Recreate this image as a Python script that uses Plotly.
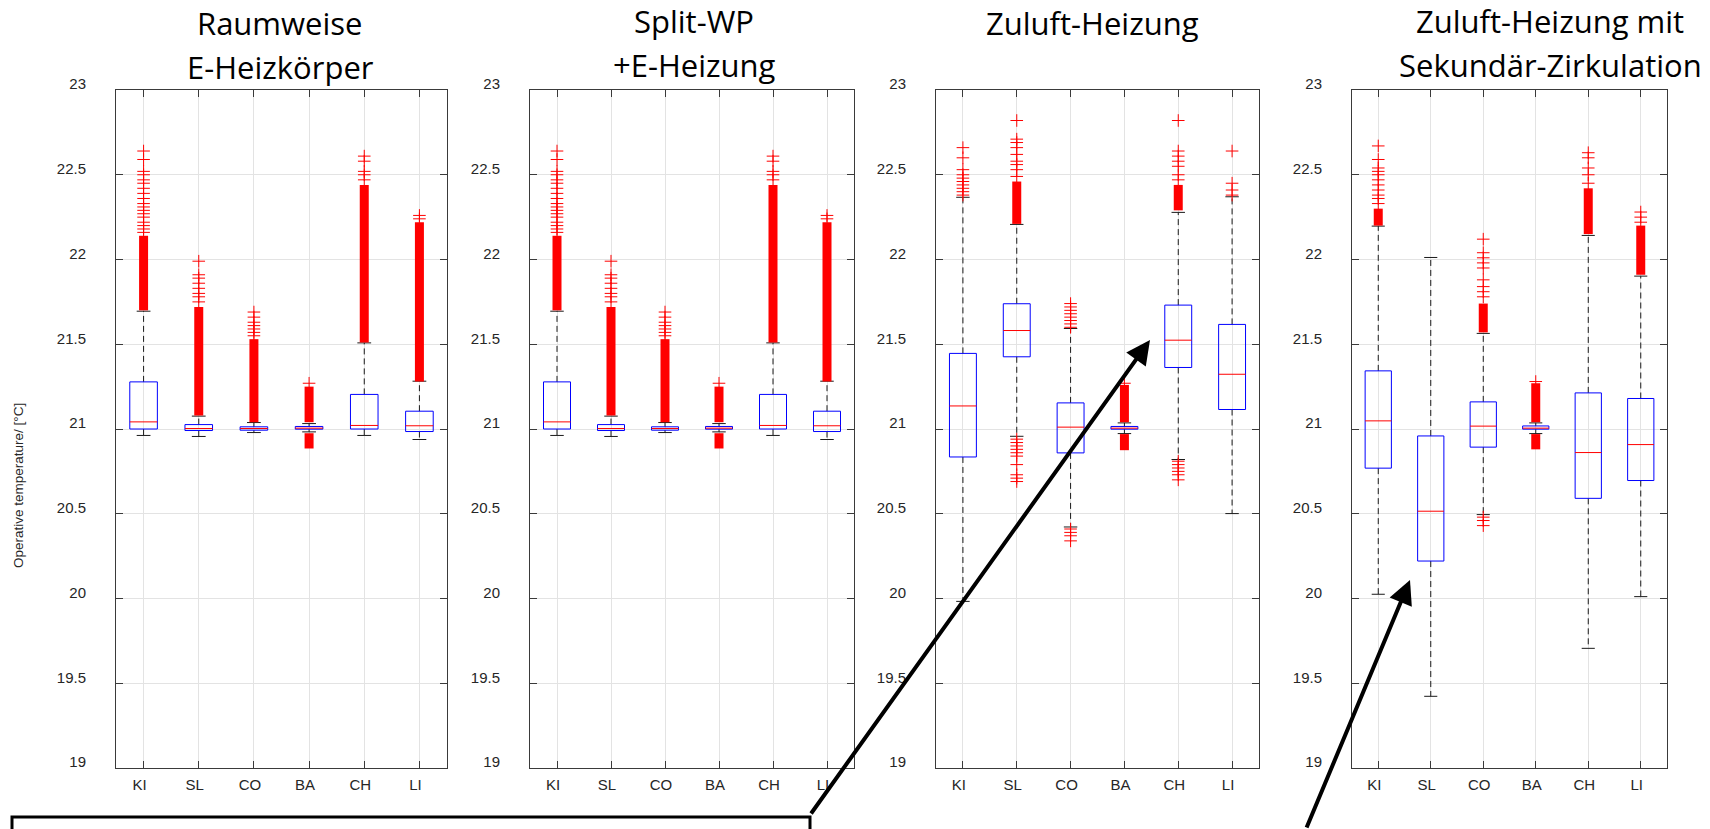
import plotly.graph_objects as go

# ---------------- data ----------------
categories = ["KI", "SL", "CO", "BA", "CH", "LI"]
y_range = [19, 23]

titles = [
    ["Raumweise", "E-Heizkörper"],
    ["Split-WP", "+E-Heizung"],
    ["Zuluft-Heizung"],
    ["Zuluft-Heizung mit", "Sekundär-Zirkulation"],
]

# Panel 1: Raumweise E-Heizkörper
raum_q1 = [21.000, 20.991, 20.993, 20.999, 21.000, 20.985]
raum_median = [21.042, 21.003, 21.003, 21.005, 21.021, 21.019]
raum_q3 = [21.278, 21.026, 21.013, 21.015, 21.204, 21.105]
raum_lower = [20.962, 20.956, 20.979, 20.983, 20.962, 20.938]
raum_upper = [21.695, 21.076, 21.038, 21.032, 21.508, 21.282]
raum_dense = [[(21.70, 22.14)], [(21.08, 21.72)], [(21.04, 21.53)],
              [(21.04, 21.25), (20.885, 20.975)], [(21.51, 22.44)], [(21.28, 22.22)]]
raum_outliers = [
    [22.16, 22.18, 22.20, 22.22, 22.25, 22.27, 22.29, 22.31, 22.33, 22.36, 22.39, 22.42, 22.45, 22.47, 22.50, 22.52, 22.59, 22.64],
    [21.75, 21.78, 21.80, 21.83, 21.86, 21.89, 21.91, 21.99],
    [21.55, 21.57, 21.59, 21.61, 21.63, 21.66, 21.69],
    [21.27],
    [22.47, 22.50, 22.52, 22.58, 22.61],
    [22.24, 22.26],
]

# Panel 2: Split-WP + E-Heizung (same readings as panel 1)
split_q1 = [21.000, 20.991, 20.993, 20.999, 21.000, 20.985]
split_median = [21.042, 21.003, 21.003, 21.005, 21.021, 21.019]
split_q3 = [21.278, 21.026, 21.013, 21.015, 21.204, 21.105]
split_lower = [20.962, 20.956, 20.979, 20.983, 20.962, 20.938]
split_upper = [21.695, 21.076, 21.038, 21.032, 21.508, 21.282]
split_dense = [[(21.70, 22.14)], [(21.08, 21.72)], [(21.04, 21.53)],
               [(21.04, 21.25), (20.885, 20.975)], [(21.51, 22.44)], [(21.28, 22.22)]]
split_outliers = [
    [22.16, 22.18, 22.20, 22.22, 22.25, 22.27, 22.29, 22.31, 22.33, 22.36, 22.39, 22.42, 22.45, 22.47, 22.50, 22.52, 22.59, 22.64],
    [21.75, 21.78, 21.80, 21.83, 21.86, 21.89, 21.91, 21.99],
    [21.55, 21.57, 21.59, 21.61, 21.63, 21.66, 21.69],
    [21.27],
    [22.47, 22.50, 22.52, 22.58, 22.61],
    [22.24, 22.26],
]

# Panel 3: Zuluft-Heizung
zul_q1 = [20.835, 21.426, 20.859, 20.999, 21.363, 21.115]
zul_median = [21.136, 21.581, 21.011, 21.005, 21.524, 21.323]
zul_q3 = [21.446, 21.739, 21.154, 21.015, 21.731, 21.617]
zul_lower = [19.983, 20.957, 20.422, 20.973, 20.820, 20.501]
zul_upper = [22.367, 22.207, 21.593, 21.036, 22.278, 22.370]
zul_dense = [[], [(22.21, 22.46)], [], [(21.04, 21.26), (20.875, 20.97)], [(22.29, 22.44)], []]
zul_outliers = [
    [22.38, 22.40, 22.42, 22.44, 22.46, 22.48, 22.50, 22.53, 22.60, 22.66],
    [22.49, 22.53, 22.56, 22.58, 22.62, 22.66, 22.69, 22.71, 22.82,
     20.94, 20.92, 20.90, 20.88, 20.86, 20.84, 20.79, 20.73, 20.71, 20.69],
    [21.60, 21.62, 21.64, 21.66, 21.68, 21.70, 21.72, 21.74, 20.41, 20.39, 20.37, 20.34],
    [21.27],
    [22.47, 22.50, 22.55, 22.58, 22.61, 22.64, 22.82, 20.81, 20.79, 20.77, 20.75, 20.73, 20.70],
    [22.38, 22.41, 22.45, 22.64],
]

# Panel 4: Zuluft-Heizung mit Sekundär-Zirkulation
sek_q1 = [20.769, 20.221, 20.893, 20.999, 20.591, 20.696]
sek_median = [21.048, 20.515, 21.017, 21.005, 20.861, 20.908]
sek_q3 = [21.343, 20.959, 21.160, 21.018, 21.213, 21.180]
sek_lower = [20.025, 19.423, 20.495, 20.973, 19.706, 20.011]
sek_upper = [22.197, 22.012, 21.564, 21.036, 22.142, 21.902]
sek_dense = [[(22.20, 22.30)], [], [(21.57, 21.74)], [(21.04, 21.27), (20.88, 20.97)],
             [(22.15, 22.42)], [(21.91, 22.20)]]
sek_outliers = [
    [22.33, 22.36, 22.38, 22.41, 22.44, 22.47, 22.50, 22.52, 22.54, 22.59, 22.67],
    [],
    [21.78, 21.81, 21.84, 21.88, 21.95, 21.98, 22.01, 22.04, 22.12, 20.48, 20.46, 20.43],
    [21.28],
    [22.45, 22.50, 22.54, 22.60, 22.63],
    [22.22, 22.25, 22.28],
]

panels = [
    (raum_q1, raum_median, raum_q3, raum_lower, raum_upper, raum_dense, raum_outliers),
    (split_q1, split_median, split_q3, split_lower, split_upper, split_dense, split_outliers),
    (zul_q1, zul_median, zul_q3, zul_lower, zul_upper, zul_dense, zul_outliers),
    (sek_q1, sek_median, sek_q3, sek_lower, sek_upper, sek_dense, sek_outliers),
]

# ---------------- layout geometry (pixels of 1710x829 canvas) ----------------
W, H = 1710, 829
panel_px = [(116, 447), (530, 854), (936, 1259), (1352, 1667)]
top_px, bot_px = 90, 768
title_px = [[(280, 23), (280, 67)], [(694, 21), (694, 65)], [(1092, 23)], [(1550, 21), (1550, 65)]]

BOX_HALF = 0.25
CAP_HALF = 0.125
AXC = "#3a3a3a"
GRID = "#e3e3e3"
TICKFONT = dict(family="Liberation Sans, Arial, sans-serif", size=15, color="#262626")

fig = go.Figure()

for k, (q1, med, q3, lo, hi, dense, outl) in enumerate(panels):
    xa = "x" if k == 0 else f"x{k+1}"
    ya = "y" if k == 0 else f"y{k+1}"
    wx, wy, cx, cy, bx, by, mx, my, ox, oy, dx, dy = ([] for _ in range(12))
    for i in range(len(categories)):
        p = i + 1
        wx += [p, p, None, p, p, None]
        wy += [q3[i], hi[i], None, q1[i], lo[i], None]
        cx += [p - CAP_HALF, p + CAP_HALF, None, p - CAP_HALF, p + CAP_HALF, None]
        cy += [hi[i], hi[i], None, lo[i], lo[i], None]
        bx += [p - BOX_HALF, p + BOX_HALF, p + BOX_HALF, p - BOX_HALF, p - BOX_HALF, None]
        by += [q1[i], q1[i], q3[i], q3[i], q1[i], None]
        mx += [p - BOX_HALF, p + BOX_HALF, None]
        my += [med[i], med[i], None]
        for (a, b) in dense[i]:
            dx += [p, p, None]
            dy += [a, b, None]
        for v in outl[i]:
            ox.append(p)
            oy.append(v)
    common = dict(xaxis=xa, yaxis=ya, showlegend=False, hoverinfo="skip")
    fig.add_trace(go.Scatter(x=wx, y=wy, mode="lines",
                             line=dict(color="#1a1a1a", width=1, dash="6px,4px"), **common))
    fig.add_trace(go.Scatter(x=cx, y=cy, mode="lines", line=dict(color="#1a1a1a", width=1), **common))
    fig.add_trace(go.Scatter(x=dx, y=dy, mode="lines", line=dict(color="#ff0000", width=9), **common))
    fig.add_trace(go.Scatter(x=ox, y=oy, mode="markers",
                             marker=dict(symbol="cross-thin", size=9, line=dict(color="#ff0000", width=1)),
                             **common))
    fig.add_trace(go.Scatter(x=bx, y=by, mode="lines", line=dict(color="#0000ff", width=1), **common))
    fig.add_trace(go.Scatter(x=mx, y=my, mode="lines", line=dict(color="#ff0000", width=1), **common))

layout = dict(
    width=W, height=H, autosize=False, margin=dict(l=0, r=0, t=0, b=0, pad=0, autoexpand=False),
    paper_bgcolor="white", plot_bgcolor="white", showlegend=False,
)
ydom = [1 - bot_px / H, 1 - top_px / H]
for k, (x0, x1) in enumerate(panel_px):
    sx = "" if k == 0 else str(k + 1)
    layout[f"xaxis{sx}"] = dict(
        domain=[x0 / W, x1 / W], range=[0.5, 6.5], anchor=f"y{sx}", automargin=False,
        tickmode="array", tickvals=list(range(1, len(categories) + 1)), ticktext=categories,
        showgrid=True, gridcolor=GRID, gridwidth=1, zeroline=False,
        showline=True, linecolor=AXC, linewidth=1, mirror="ticks",
        ticks="inside", ticklen=7, tickcolor=AXC, tickfont=TICKFONT,
        ticklabelshift=-4, ticklabelstandoff=3, fixedrange=True,
    )
    layout[f"yaxis{sx}"] = dict(
        domain=ydom, range=y_range, anchor=f"x{sx}", automargin=False,
        tick0=19, dtick=0.5,
        showgrid=True, gridcolor=GRID, gridwidth=1, zeroline=False,
        showline=True, linecolor=AXC, linewidth=1, mirror="ticks",
        ticks="inside", ticklen=7, tickcolor=AXC, tickfont=TICKFONT,
        ticklabelstandoff=26, ticklabelshift=-6, fixedrange=True,
    )
fig.update_layout(**layout)

# titles
for k, lines in enumerate(titles):
    for line, (px, py) in zip(lines, title_px[k]):
        fig.add_annotation(text=line, x=px / W, y=1 - py / H, xref="paper", yref="paper",
                           xanchor="center", yanchor="middle", showarrow=False,
                           font=dict(family="Open Sans, sans-serif", size=31, color="black"))

# y axis title
fig.add_annotation(text="Operative temperature/ [°C]", x=18 / W, y=1 - 486 / H,
                   xref="paper", yref="paper", xanchor="center", yanchor="middle",
                   textangle=-90, showarrow=False,
                   font=dict(family="Liberation Sans, Arial, sans-serif", size=13.5, color="#262626"))

# empty callout box and arrows
fig.add_shape(type="rect", xref="paper", yref="paper",
              x0=12 / W, x1=810 / W, y0=1 - 817 / H, y1=-0.1,
              line=dict(color="black", width=3), fillcolor="rgba(0,0,0,0)")
fig.add_annotation(text="", x=1150 / W, y=1 - 340 / H, xref="paper", yref="paper",
                   ax=-340, ay=475, showarrow=True, arrowhead=2, arrowsize=1.2,
                   arrowwidth=4, arrowcolor="black", standoff=0)
fig.add_annotation(text="", x=1410 / W, y=1 - 580 / H, xref="paper", yref="paper",
                   ax=-104, ay=260, showarrow=True, arrowhead=2, arrowsize=1.2,
                   arrowwidth=4, arrowcolor="black", standoff=0)

fig.write_html("out.html", config={"displayModeBar": False},
               post_script="document.body.style.margin='0';document.body.style.overflow='hidden';")
